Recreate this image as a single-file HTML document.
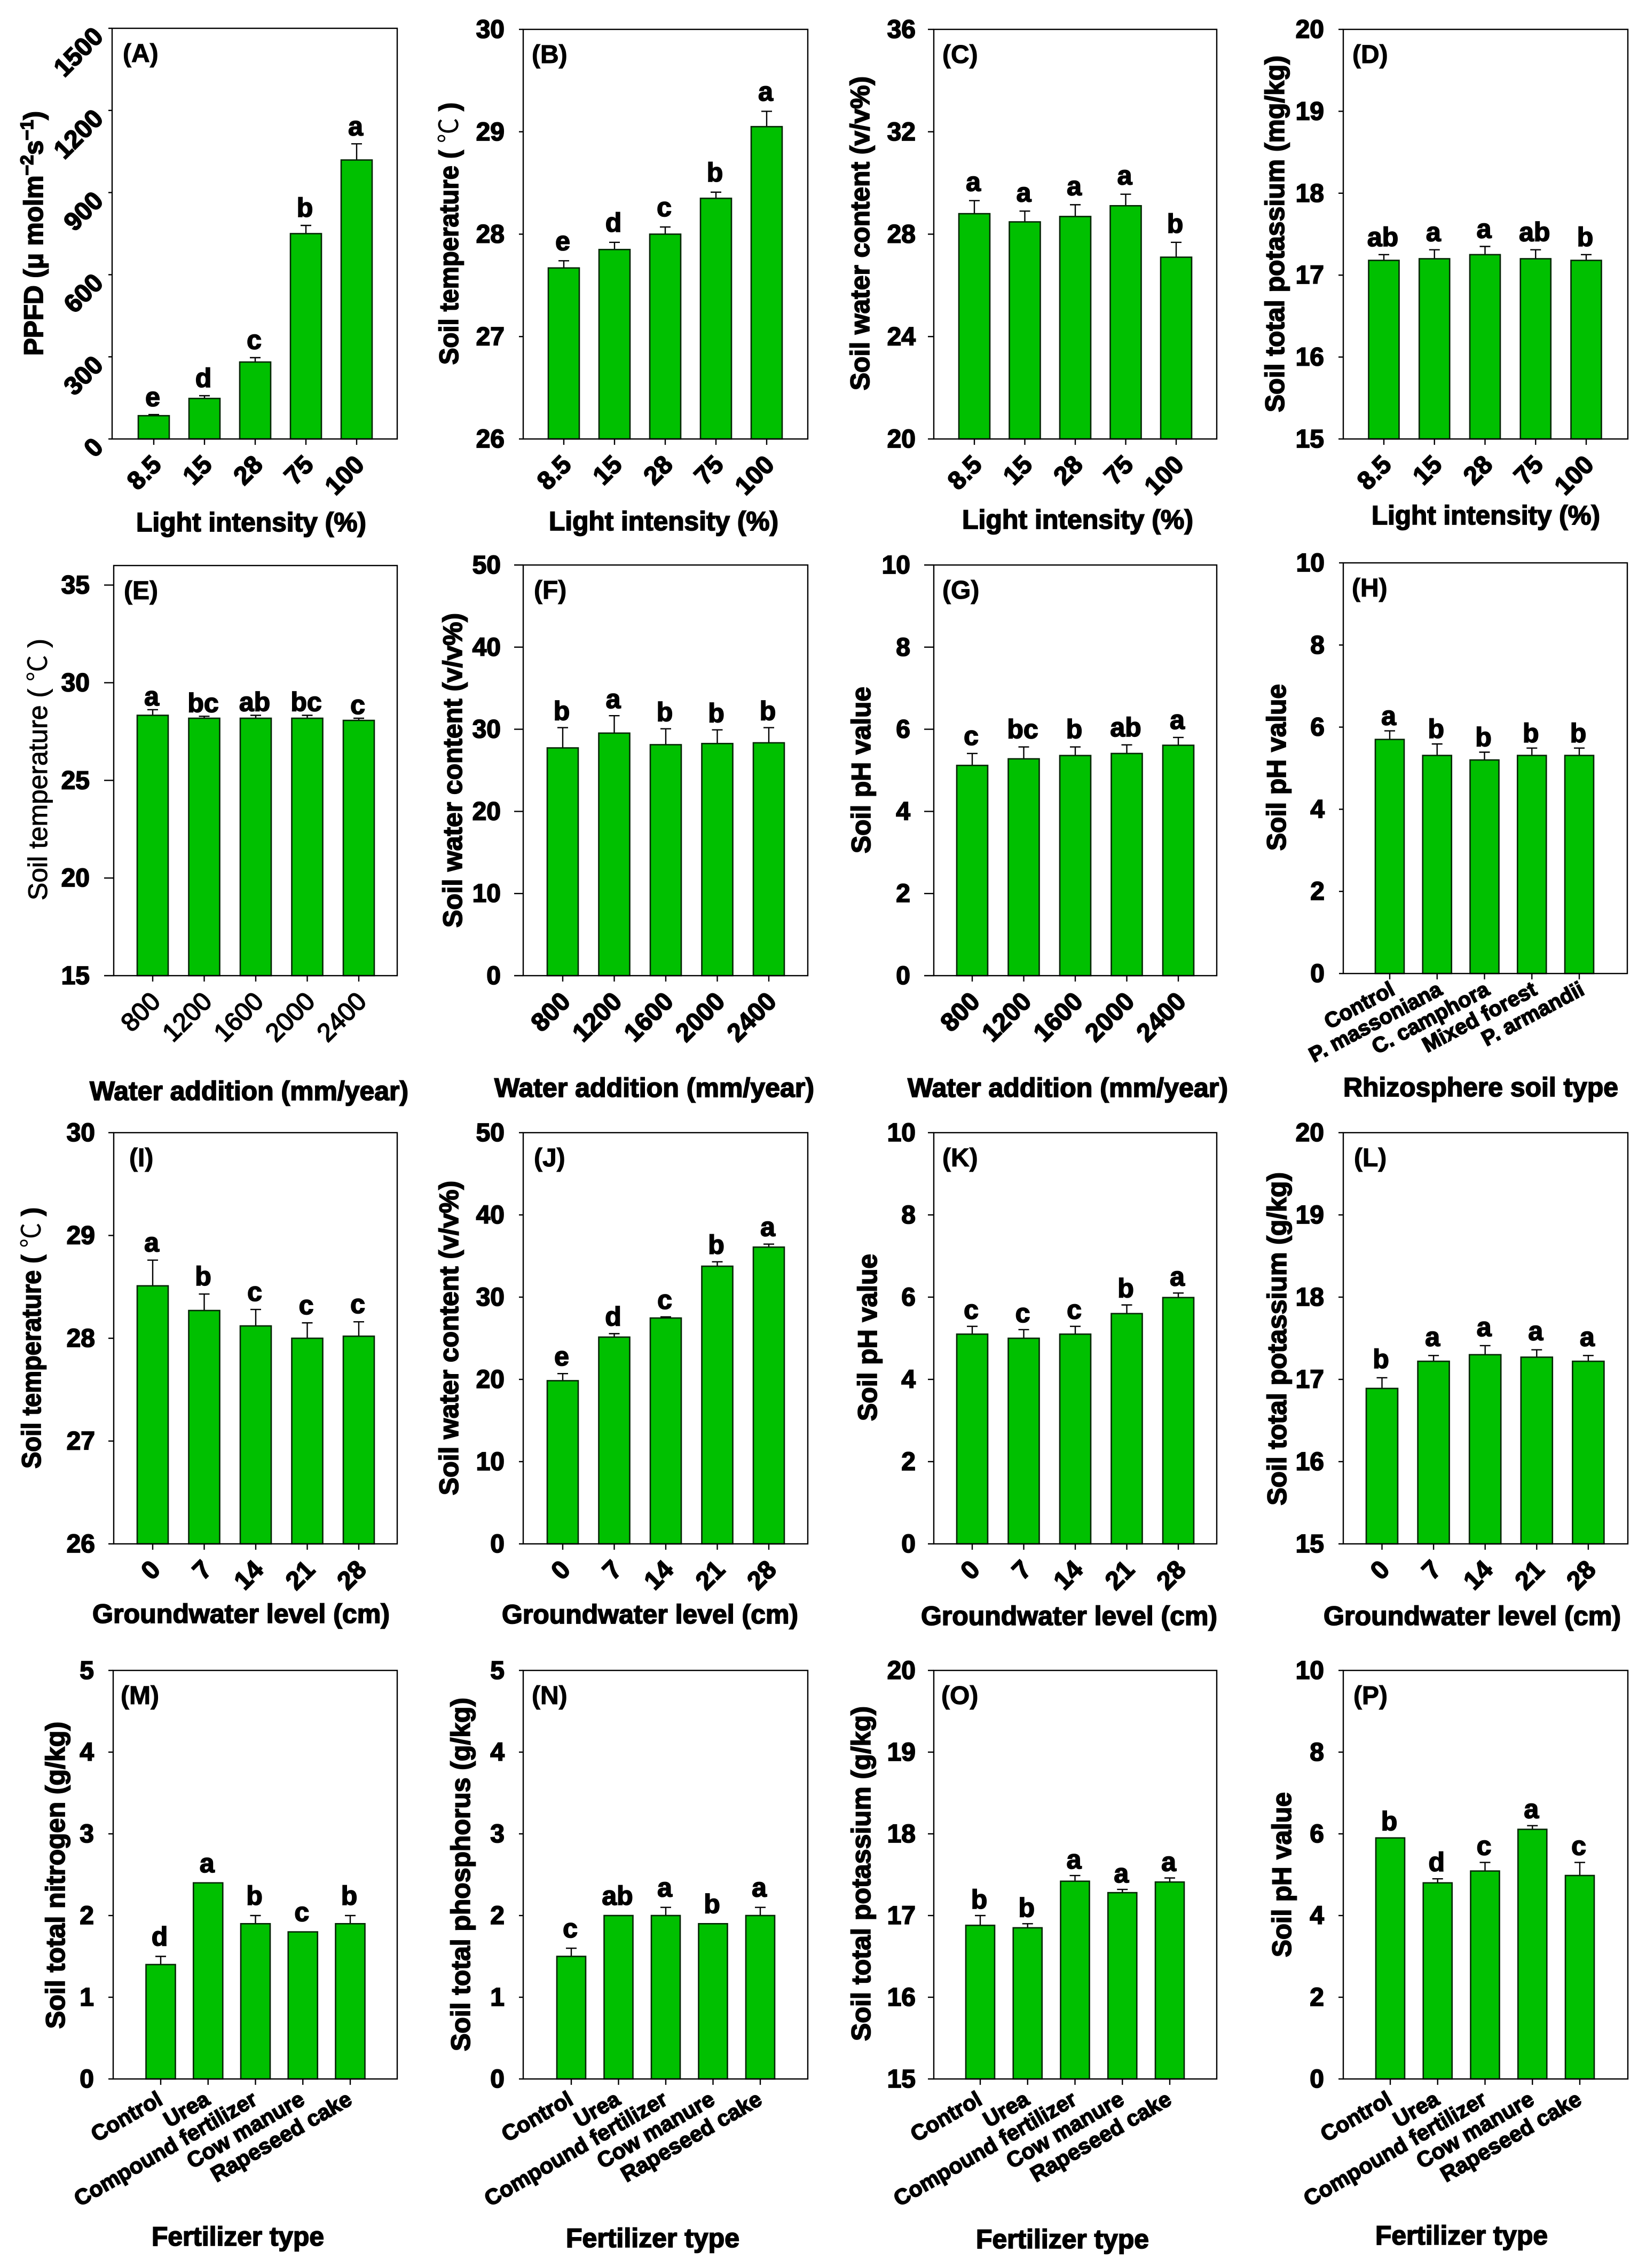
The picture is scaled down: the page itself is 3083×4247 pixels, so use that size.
<!DOCTYPE html>
<html lang="en">
<head>
<meta charset="utf-8">
<title>Soil and light measurements by treatment, panels A to P</title>
<style>
html,body{margin:0;padding:0;background:#fff;width:3083px;height:4247px;overflow:hidden}
svg{display:block}
text{font-family:"Liberation Sans","Noto Sans CJK SC",sans-serif;fill:#000}
</style>
</head>
<body>
<svg id="chart" xmlns="http://www.w3.org/2000/svg" width="3083" height="4247" viewBox="0 0 3083 4247">
<rect x="0" y="0" width="3083" height="4247" fill="#ffffff"></rect>
</svg>
<script>
// Categories
const lightCategories = ['8.5','15','28','75','100'];
const waterCategories = ['800','1200','1600','2000','2400'];
const rhizosphereCategories = ['Control','P. massoniana','C. camphora','Mixed forest','P. armandii'];
const groundwaterCategories = ['0','7','14','21','28'];
const fertilizerCategories = ['Control','Urea','Compound fertilizer','Cow manure','Rapeseed cake'];

// Series values, errors, significance letters and y-axis tick labels
const valuesA = [85,148,281,750,1019];
const errorsA = [4,10,16,30,59];
const lettersA = ['e','d','c','b','a'];
const yTicksA = [0,300,600,900,1200,1500];

const valuesB = [27.67,27.85,28.0,28.35,29.05];
const errorsB = [0.07,0.07,0.07,0.06,0.15];
const lettersB = ['e','d','c','b','a'];
const yTicksB = [26,27,28,29,30];

const valuesC = [28.8,28.48,28.69,29.11,27.1];
const errorsC = [0.51,0.42,0.46,0.45,0.58];
const lettersC = ['a','a','a','a','b'];
const yTicksC = [20,24,28,32,36];

const valuesD = [17.18,17.2,17.25,17.2,17.18];
const errorsD = [0.07,0.11,0.1,0.11,0.07];
const lettersD = ['ab','a','a','ab','b'];
const yTicksD = [15,16,17,18,19,20];

const valuesE = [28.33,28.18,28.18,28.18,28.07];
const errorsE = [0.29,0.1,0.15,0.15,0.11];
const lettersE = ['a','bc','ab','bc','c'];
const yTicksE = [15,20,25,30,35];

const valuesF = [27.73,29.53,28.12,28.26,28.35];
const errorsF = [2.47,2.12,1.94,1.67,1.85];
const lettersF = ['b','a','b','b','b'];
const yTicksF = [0,10,20,30,40,50];

const valuesG = [5.12,5.28,5.36,5.41,5.61];
const errorsG = [0.29,0.29,0.21,0.21,0.19];
const lettersG = ['c','bc','b','ab','a'];
const yTicksG = [0,2,4,6,8,10];

const valuesH = [5.7,5.31,5.2,5.31,5.31];
const errorsH = [0.21,0.28,0.19,0.18,0.18];
const lettersH = ['a','b','b','b','b'];
const yTicksH = [0,2,4,6,8,10];

const valuesI = [28.51,28.27,28.12,28.0,28.02];
const errorsI = [0.25,0.16,0.16,0.15,0.14];
const lettersI = ['a','b','c','c','c'];
const yTicksI = [26,27,28,29,30];

const valuesJ = [19.84,25.14,27.46,33.76,36.08];
const errorsJ = [0.86,0.42,0.14,0.54,0.37];
const lettersJ = ['e','d','c','b','a'];
const yTicksJ = [0,10,20,30,40,50];

const valuesK = [5.1,5.0,5.1,5.6,5.99];
const errorsK = [0.19,0.21,0.19,0.21,0.11];
const lettersK = ['c','c','c','b','a'];
const yTicksK = [0,2,4,6,8,10];

const valuesL = [16.89,17.22,17.3,17.27,17.22];
const errorsL = [0.13,0.07,0.11,0.09,0.07];
const lettersL = ['b','a','a','a','a'];
const yTicksL = [15,16,17,18,19,20];

const valuesM = [1.4,2.4,1.9,1.8,1.9];
const errorsM = [0.1,0,0.1,0,0.1];
const lettersM = ['d','a','b','c','b'];
const yTicksM = [0,1,2,3,4,5];

const valuesN = [1.5,2.0,2.0,1.9,2.0];
const errorsN = [0.1,0,0.1,0,0.1];
const lettersN = ['c','ab','a','b','a'];
const yTicksN = [0,1,2,3,4,5];

const valuesO = [16.88,16.85,17.42,17.28,17.41];
const errorsO = [0.12,0.05,0.07,0.04,0.05];
const lettersO = ['b','b','a','a','a'];
const yTicksO = [15,16,17,18,19,20];

const valuesP = [5.9,4.8,5.09,6.11,4.98];
const errorsP = [0,0.1,0.21,0.09,0.32];
const lettersP = ['b','d','c','a','c'];
const yTicksP = [0,2,4,6,8,10];

// Panel layout (geometry only; values come from the arrays above)
const panels = [
 {id:'A',left:210,right:744,top:53,bottom:822,min:0,max:1500,x0:288,step:95,bw:58,values:valuesA,errors:errorsA,letters:lettersA,ticks:yTicksA,cats:lightCategories,yTitle:'PPFD',sup:true,xTitle:'Light intensity (%)',xt:[255,686,995],yt:[666,208,80],tickLen:7,gap:16,labelDx:20,rotY:true},
 {id:'B',left:980,right:1513,top:55,bottom:822,min:26,max:30,x0:1056,step:95,bw:58,values:valuesB,errors:errorsB,letters:lettersB,ticks:yTicksB,cats:lightCategories,yTitle:'Soil temperature ( \u2103 )',xTitle:'Light intensity (%)',xt:[1028,1458,993],yt:[683,192,858],tickLen:8,gap:20,labelDx:16,yRight:945},
 {id:'C',left:1749,right:2279,top:55,bottom:822,min:20,max:36,x0:1825,step:94.5,bw:58,values:valuesC,errors:errorsC,letters:lettersC,ticks:yTicksC,cats:lightCategories,yTitle:'Soil water content (v/v%)',xTitle:'Light intensity (%)',xt:[1802,2235,990],yt:[731,143,1628],tickLen:11,gap:18,labelDx:16,yRight:1715},
 {id:'D',left:2516,right:3049,top:55,bottom:822,min:15,max:20,x0:2592,step:94.75,bw:57,values:valuesD,errors:errorsD,letters:lettersD,ticks:yTicksD,cats:lightCategories,yTitle:'Soil total potassium (mg/kg)',xTitle:'Light intensity (%)',xt:[2569,2997,982],yt:[772,104,2405],tickLen:9,gap:16,labelDx:17,yRight:2480},
 {id:'E',left:213,right:744,top:1059,bottom:1827,min:15,max:36,x0:286,step:96.5,bw:58,values:valuesE,errors:errorsE,letters:lettersE,ticks:yTicksE,cats:waterCategories,yTitle:'Soil temperature ( \u2103 )',xTitle:'Water addition (mm/year)',xt:[168,765,2060],yt:[1686,1196,88],tickLen:18,gap:8,labelDx:19,yRight:168,lightText:true},
 {id:'F',left:980,right:1513,top:1058,bottom:1827,min:0,max:50,x0:1054,step:96.5,bw:58,values:valuesF,errors:errorsF,letters:lettersF,ticks:yTicksF,cats:waterCategories,yTitle:'Soil water content (v/v%)',xTitle:'Water addition (mm/year)',xt:[926,1525,2054],yt:[1737,1148,865],tickLen:17,gap:14,labelDx:20,yRight:938},
 {id:'G',left:1749,right:2279,top:1058,bottom:1827,min:0,max:10,x0:1821,step:96.5,bw:58,values:valuesG,errors:errorsG,letters:lettersG,ticks:yTicksG,cats:waterCategories,yTitle:'Soil pH value',xTitle:'Water addition (mm/year)',xt:[1700,2300,2054],yt:[1598,1286,1630],tickLen:18,gap:16,labelDx:16,yRight:1705},
 {id:'H',left:2516,right:3048,top:1054,bottom:1823,min:0,max:10,x0:2603,step:88.75,bw:54,values:valuesH,errors:errorsH,letters:lettersH,ticks:yTicksH,cats:rhizosphereCategories,yTitle:'Soil pH value',xTitle:'Rhizosphere soil type',xt:[2516,3031,2053],yt:[1593,1281,2408],tickLen:8,gap:11,labelDx:16,yRight:2481,angled:[12,38,40,28]},
 {id:'I',left:213,right:744,top:2121,bottom:2891,min:26,max:30,x0:286,step:96.5,bw:58,values:valuesI,errors:errorsI,letters:lettersI,ticks:yTicksI,cats:groundwaterCategories,yTitle:'Soil temperature ( \u2103 )',xTitle:'Groundwater level (cm)',xt:[173,730,3039],yt:[2750,2261,76],tickLen:10,gap:16,labelDx:29,yRight:178},
 {id:'J',left:980,right:1513,top:2121,bottom:2891,min:0,max:50,x0:1054,step:96.5,bw:58,values:valuesJ,errors:errorsJ,letters:lettersJ,ticks:yTicksJ,cats:groundwaterCategories,yTitle:'Soil water content (v/v%)',xTitle:'Groundwater level (cm)',xt:[940,1495,3040],yt:[2800,2211,858],tickLen:8,gap:15,labelDx:20,yRight:945},
 {id:'K',left:1749,right:2279,top:2121,bottom:2891,min:0,max:10,x0:1821,step:96.5,bw:58,values:valuesK,errors:errorsK,letters:lettersK,ticks:yTicksK,cats:groundwaterCategories,yTitle:'Soil pH value',xTitle:'Groundwater level (cm)',xt:[1725,2280,3043],yt:[2661,2348,1642],tickLen:11,gap:14,labelDx:16,yRight:1715},
 {id:'L',left:2516,right:3049,top:2121,bottom:2891,min:15,max:20,x0:2588.5,step:96.6,bw:59,values:valuesL,errors:errorsL,letters:lettersL,ticks:yTicksL,cats:groundwaterCategories,yTitle:'Soil total potassium (g/kg)',xTitle:'Groundwater level (cm)',xt:[2479,3036,3043],yt:[2819,2195,2409],tickLen:9,gap:18,labelDx:20,yRight:2480},
 {id:'M',left:212,right:744,top:3128,bottom:3893,min:0,max:5,x0:301,step:88.75,bw:55,values:valuesM,errors:errorsM,letters:lettersM,ticks:yTicksM,cats:fertilizerCategories,yTitle:'Soil total nitrogen (g/kg)',xTitle:'Fertilizer type',xt:[284,607,4205],yt:[3799,3224,121],tickLen:9,gap:20,labelDx:14,yRight:176,angled:[6,46,41,30]},
 {id:'N',left:980,right:1513,top:3128,bottom:3893,min:0,max:5,x0:1070,step:88.5,bw:54,values:valuesN,errors:errorsN,letters:lettersN,ticks:yTicksN,cats:fertilizerCategories,yTitle:'Soil total phosphorus (g/kg)',xTitle:'Fertilizer type',xt:[1060,1385,4208],yt:[3841,3179,880],tickLen:8,gap:20,labelDx:16,yRight:945,angled:[6,46,41,30]},
 {id:'O',left:1749,right:2279,top:3128,bottom:3893,min:15,max:20,x0:1836,step:88.75,bw:54,values:valuesO,errors:errorsO,letters:lettersO,ticks:yTicksO,cats:fertilizerCategories,yTitle:'Soil total potassium (g/kg)',xTitle:'Fertilizer type',xt:[1828,2152,4210],yt:[3822,3195,1630],tickLen:11,gap:13,labelDx:14,yRight:1715,angled:[6,46,41,30]},
 {id:'P',left:2516,right:3049,top:3128,bottom:3893,min:0,max:10,x0:2604,step:88.75,bw:54,values:valuesP,errors:errorsP,letters:lettersP,ticks:yTicksP,cats:fertilizerCategories,yTitle:'Soil pH value',xTitle:'Fertilizer type',xt:[2576,2899,4203],yt:[3665,3356,2418],tickLen:9,gap:14,labelDx:19,yRight:2480,angled:[6,46,41,30]}
];

const SVG_NS = 'http://www.w3.org/2000/svg';
const root = document.getElementById('chart');
const BAR_FILL = '#00c000';
const INK = '#000000';
const CELSIUS = '\u2103';

function make(tag, attrs, parent){
  const node = document.createElementNS(SVG_NS, tag);
  for (const k in attrs) node.setAttribute(k, attrs[k]);
  parent.appendChild(node);
  return node;
}
function heavy(node){
  node.setAttribute('font-weight', 'bold');
  node.setAttribute('stroke', '#000');
  node.setAttribute('stroke-width', '1.8');
}

panels.forEach(function(p){
  const key = p.id.toLowerCase();
  const yScale = function(v){ return p.bottom - (v - p.min) / (p.max - p.min) * (p.bottom - p.top); };
  const xScale = function(i){ return p.x0 + i * p.step; };

  const g = make('g', {}, root);
  
  

  // bars and error bars
  p.values.forEach(function(v, i){
    const cx = xScale(i);
    const yv = yScale(v);
    const yErr = yScale(v + p.errors[i]);

    if (p.errors[i] > 0) {
      const stem = make('line', {x1:cx, x2:cx, y1:yv, y2:yErr, stroke:INK, 'stroke-width':2.4}, g);
      
      
      const cap = make('line', {x1:cx - 10, x2:cx + 10, y1:yErr, y2:yErr, stroke:INK, 'stroke-width':2.4}, g);
      
      
    }

    const bar = make('rect', {x:cx - p.bw / 2, y:yv, width:p.bw, height:p.bottom - yv, fill:BAR_FILL, stroke:'#032503', 'stroke-width':2.6}, g);
    
    

    const letter = make('text', {x:cx - 2, y:yErr - p.gap, 'text-anchor':'middle', 'font-size':50}, g);
    heavy(letter);
    letter.textContent = p.letters[i];
    
    

    const tick = make('line', {x1:cx, x2:cx, y1:p.bottom, y2:p.bottom + 11, stroke:INK, 'stroke-width':2.4}, g);
    
    

    // category label
    const a = p.angled ? p.angled : [17, 51, 48, 45];
    const lx = cx + a[0];
    const ly = p.bottom + a[1];
    const cat = make('text', {x:lx, y:ly, 'text-anchor':'end', 'font-size':a[2], transform:'rotate(-' + a[3] + ' ' + lx + ' ' + ly + ')'}, g);
    heavy(cat);
    if (p.lightText) { cat.setAttribute('font-weight', 'normal'); }
    cat.textContent = p.cats[i];
    
    
  });

  // plot frame
  const frame = make('rect', {x:p.left, y:p.top, width:p.right - p.left, height:p.bottom - p.top, fill:'none', stroke:INK, 'stroke-width':2.4}, g);
  
  

  // y ticks
  p.ticks.forEach(function(t, i){
    const yy = yScale(t);
    const tick = make('line', {x1:p.left - p.tickLen, x2:p.left, y1:yy, y2:yy, stroke:INK, 'stroke-width':2.4}, g);
    
    

    let lab;
    if (p.rotY) {
      const lx = p.left - 14;
      const ly = yy + 18;
      lab = make('text', {x:lx, y:ly, 'text-anchor':'end', 'font-size':48, transform:'rotate(-45 ' + lx + ' ' + ly + ')'}, g);
    } else {
      lab = make('text', {x:p.yRight, y:yy + 16, 'text-anchor':'end', 'font-size':48}, g);
    }
    heavy(lab);
    lab.textContent = String(t);
    
    
  });

  // panel letter
  const tag = make('text', {x:p.left + p.labelDx, y:p.top + 63, 'font-size':48}, g);
  heavy(tag);
  tag.setAttribute('stroke-width', '1');
  tag.textContent = '(' + p.id + ')';
  
  

  // x title
  const xt = make('text', {x:p.xt[0], y:p.xt[2], 'font-size':50, textLength:p.xt[1] - p.xt[0], lengthAdjust:'spacingAndGlyphs'}, g);
  heavy(xt);
  xt.textContent = p.xTitle;
  
  

  // y title
  const yt = make('text', {x:p.yt[2], y:p.yt[0], 'font-size':50, textLength:p.yt[0] - p.yt[1], lengthAdjust:'spacingAndGlyphs', transform:'rotate(-90 ' + p.yt[2] + ' ' + p.yt[0] + ')'}, g);
  if (p.lightText) { yt.setAttribute('font-weight', 'normal'); yt.setAttribute('stroke', '#000'); yt.setAttribute('stroke-width', '1'); }
  else { heavy(yt); }
  if (p.sup) {
    yt.appendChild(document.createTextNode('PPFD (\u03BC molm'));
    const s1 = make('tspan', {dy:-18, 'font-size':34}, yt);
    s1.textContent = '\u22122';
    const t2 = make('tspan', {dy:18}, yt);
    t2.textContent = 's';
    const s2 = make('tspan', {dy:-18, 'font-size':34}, yt);
    s2.textContent = '\u22121';
    const t3 = make('tspan', {dy:18}, yt);
    t3.textContent = ')';
  } else if (p.yTitle.indexOf(CELSIUS) >= 0) {
    const parts = p.yTitle.split(CELSIUS);
    yt.appendChild(document.createTextNode(parts[0]));
    const deg = make('tspan', {'font-weight':'normal', 'stroke-width':0}, yt);
    deg.textContent = CELSIUS;
    yt.appendChild(document.createTextNode(parts[1]));
  } else {
    yt.textContent = p.yTitle;
  }
  
  
});
</script>
</body>
</html>
